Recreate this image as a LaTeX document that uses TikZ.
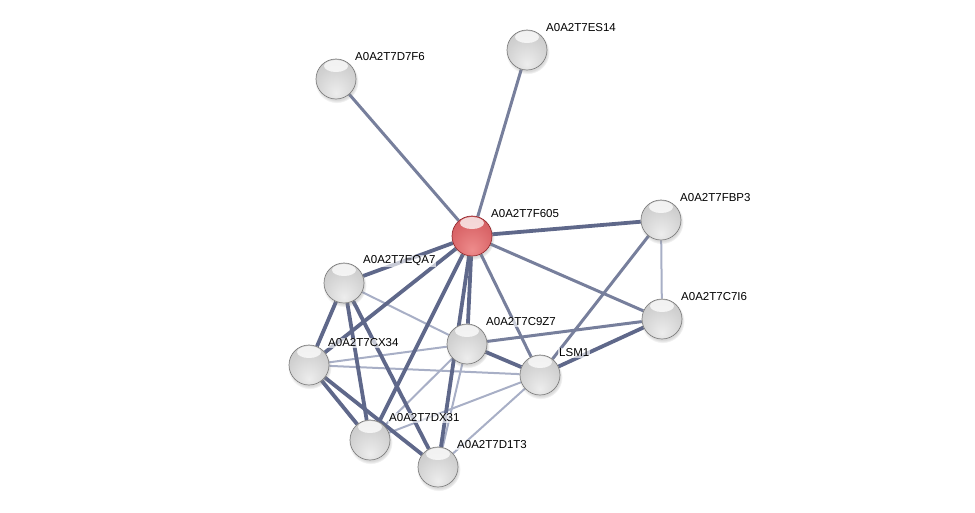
\documentclass[tikz,border=0pt]{standalone}
\usepackage{fontspec}
\setmainfont{Liberation Sans}
\usetikzlibrary{shadows,backgrounds}
\definecolor{edge}{RGB}{95,104,138}
\definecolor{faint}{RGB}{168,175,198}
\definecolor{qlight}{RGB}{238,140,140}
\definecolor{qmid}{RGB}{218,102,105}
\definecolor{qdark}{RGB}{196,78,84}
\definecolor{qrim}{RGB}{150,45,50}
\pgfdeclareradialshading{sphere}{\pgfpoint{0bp}{-18bp}}{color(0bp)=(white!93!black);
  color(26bp)=(white!82!black); color(50bp)=(white!74!black); color(68bp)=(white!60!black)}
\pgfdeclareradialshading{querysphere}{\pgfpoint{0bp}{-18bp}}{color(0bp)=(qlight);
  color(26bp)=(qmid); color(50bp)=(qdark); color(68bp)=(qrim)}
\tikzstyle{node}=[minimum size=40pt, inner sep=0pt, circle, draw=black!50, line width=0.7pt,
  shading=sphere,
  path picture={\fill[white,fill opacity=0.75] ([yshift=-7pt]path picture bounding box.north) ellipse (12pt and 6pt);},
  circular drop shadow={shadow xshift=0.6pt, shadow yshift=-2pt, opacity=0.3}]
\tikzstyle{query}=[shading=querysphere, draw=qrim]
\tikzset{lbl/.style={font=\fontsize{11.5}{13}\selectfont, anchor=west, fill=white,
  fill opacity=0.65, text opacity=1, inner sep=1pt}}
\tikzset{strong/.style={line width=3.8pt, color=edge}}
\tikzset{medium/.style={line width=3pt, color=edge!85!white}}
\tikzset{weak/.style={line width=2pt, color=faint}}

\begin{document}
\begin{tikzpicture}[x=1pt,y=-1pt]
  \useasboundingbox (0,0) rectangle (975,512);

  \draw (472,236) node[node,query] (F605) {};
  \draw (527,50) node[node] (ES14) {};
  \draw (336,79) node[node] (D7F6) {};
  \draw (661,220) node[node] (FBP3) {};
  \draw (662,319) node[node] (C7I6) {};
  \draw (344,283) node[node] (EQA7) {};
  \draw (467,344) node[node] (C9Z7) {};
  \draw (309,365) node[node] (CX34) {};
  \draw (540,375) node[node] (LSM1) {};
  \draw (370,440) node[node] (DX31) {};
  \draw (438,467) node[node] (D1T3) {};

  %% names
  \node[lbl] (tF605) at ([shift={(18,-22)}]F605) {A0A2T7F605};
  \node[lbl] (tES14) at ([shift={(18,-22)}]ES14) {A0A2T7ES14};
  \node[lbl] (tD7F6) at ([shift={(18,-22)}]D7F6) {A0A2T7D7F6};
  \node[lbl] (tFBP3) at ([shift={(18,-22)}]FBP3) {A0A2T7FBP3};
  \node[lbl] (tC7I6) at ([shift={(18,-22)}]C7I6) {A0A2T7C7I6};
  \node[lbl] (tEQA7) at ([shift={(18,-22)}]EQA7) {A0A2T7EQA7};
  \node[lbl] (tC9Z7) at ([shift={(18,-22)}]C9Z7) {A0A2T7C9Z7};
  \node[lbl] (tCX34) at ([shift={(18,-22)}]CX34) {A0A2T7CX34};
  \node[lbl] (tLSM1) at ([shift={(18,-22)}]LSM1) {LSM1};
  \node[lbl] (tDX31) at ([shift={(18,-22)}]DX31) {A0A2T7DX31};
  \node[lbl] (tD1T3) at ([shift={(18,-22)}]D1T3) {A0A2T7D1T3};

  \begin{scope}[on background layer]
  \draw[weak] (EQA7) -- (C9Z7);
  \draw[weak] (CX34) -- (C9Z7);
  \draw[weak] (CX34) -- (LSM1);
  \draw[weak] (C9Z7) -- (DX31);
  \draw[weak] (C9Z7) -- (D1T3);
  \draw[weak] (LSM1) -- (DX31);
  \draw[weak] (LSM1) -- (D1T3);
  \draw[weak] (FBP3) -- (C7I6);

  \draw[medium] (F605) -- (D7F6);
  \draw[medium] (F605) -- (ES14);
  \draw[medium] (F605) -- (C7I6);
  \draw[medium] (F605) -- (LSM1);
  \draw[medium] (C9Z7) -- (C7I6);
  \draw[medium] (LSM1) -- (FBP3);

  \draw[strong] (F605) -- (FBP3);
  \draw[strong] (F605) -- (EQA7);
  \draw[strong] (F605) -- (CX34);
  \draw[strong] (F605) -- (DX31);
  \draw[strong] (F605) -- (D1T3);
  \draw[strong] (F605) -- (C9Z7);
  \draw[strong] (EQA7) -- (CX34);
  \draw[strong] (EQA7) -- (DX31);
  \draw[strong] (EQA7) -- (D1T3);
  \draw[strong] (CX34) -- (DX31);
  \draw[strong] (CX34) -- (D1T3);
  \draw[strong] (C9Z7) -- (LSM1);
  \draw[strong] (LSM1) -- (C7I6);
  \end{scope}
\end{tikzpicture}
\end{document}
